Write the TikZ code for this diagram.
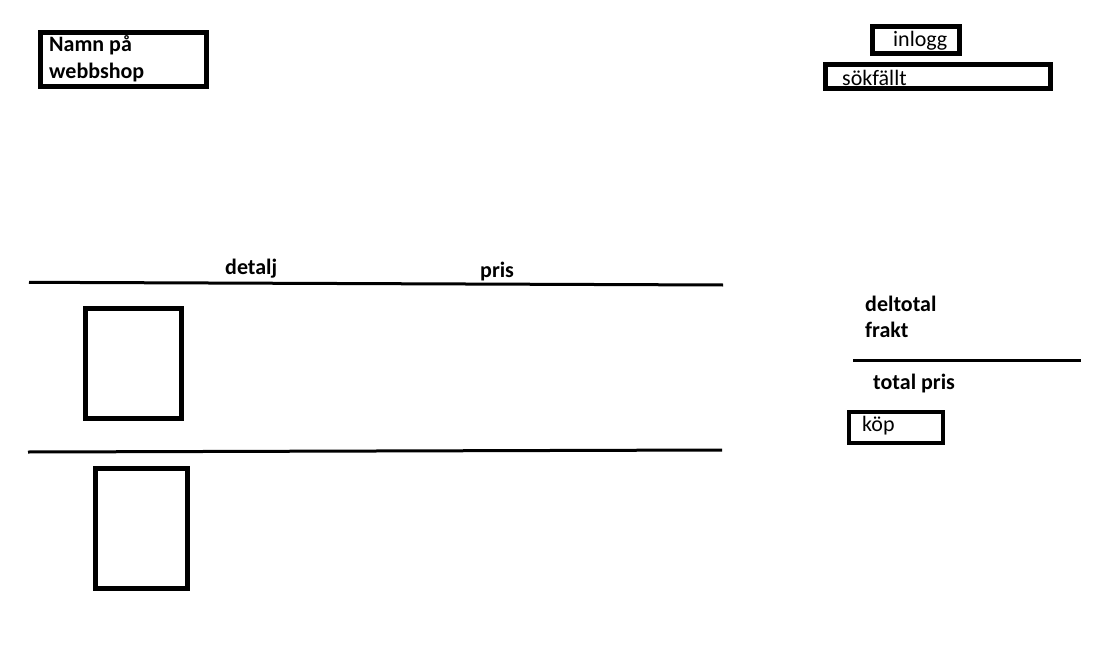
\documentclass[tikz,border=0pt]{standalone}
\usepackage{fontspec}
\setmainfont{Carlito}
\begin{document}
\begin{tikzpicture}
  [
    x = 1pt, y = -1pt,
    ruta/.style = {draw, line width = 5pt, inner sep = 0pt},
    tunnruta/.style = {draw, line width = 4pt, inner sep = 0pt},
    streck/.style = {line width = 3pt},
    txt/.style = {anchor = base west, inner sep = 0pt, font = \fontsize{22}{27}\selectfont},
    fet/.style = {txt, font = \fontsize{22}{27}\selectfont\bfseries},
  ]
  \useasboundingbox (0,0) rectangle (1116,666);

  \node [ruta, minimum width = 166pt, minimum height = 54pt] (namnbox) at (123,59.5) {};
  \node [fet] (namn) at (49,52) {Namn på};
  \node [fet] (webbshop) at (49,79) {webbshop};

  \node [ruta, minimum width = 87pt, minimum height = 26.4pt] (inloggbox) at (916,40) {};
  \node [txt] (inlogg) at (893,47) {inlogg};
  \node [ruta, minimum width = 225pt, minimum height = 24.3pt] (sokbox) at (938,76.3) {};
  \node [txt] (sok) at (842,86) {sökfällt};

  \node [fet] (detalj) at (225,274) {detalj};
  \node [fet] (pris) at (480,277.5) {pris};
  \draw [streck] (29,282.3) -- (723,285);

  \node [ruta, minimum width = 96pt, minimum height = 110pt] (bild1) at (133.5,363.5) {};
  \draw [streck] (28,452) -- (722,450);
  \node [ruta, minimum width = 92pt, minimum height = 120pt] (bild2) at (141.5,528.5) {};

  \node [fet] (deltotal) at (865,311) {deltotal};
  \node [fet] (frakt) at (865,337.5) {frakt};
  \draw [streck] (853,360.5) -- (1081,360.5);
  \node [fet] (total) at (873,389) {total pris};
  \node [tunnruta, minimum width = 93.7pt, minimum height = 30.7pt] (kopbox) at (895.8,427.3) {};
  \node [txt] (kop) at (862,431) {köp};

\end{tikzpicture}
\end{document}
